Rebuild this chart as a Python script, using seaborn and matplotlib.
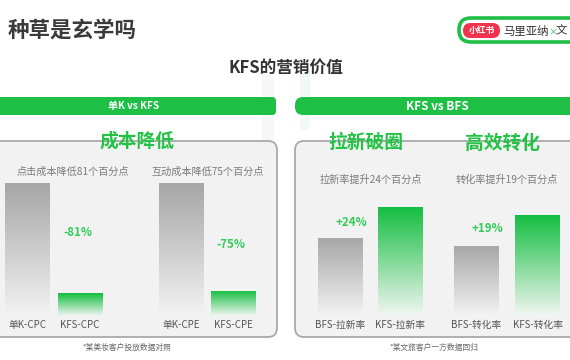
import numpy as np
import pandas as pd
import matplotlib
matplotlib.use("Agg")
import matplotlib.pyplot as plt
from matplotlib.patches import FancyBboxPatch
from matplotlib.colors import to_rgb
import seaborn as sns

# ---------------- data ----------------
title = "种草是玄学吗"
subtitle = "KFS的营销价值"
left_header = "单K vs KFS"
right_header = "KFS vs BFS"

cpc_cats = ["单K-CPC", "KFS-CPC"]
cpc_vals = [100, 17]
cpe_cats = ["单K-CPE", "KFS-CPE"]
cpe_vals = [100, 19]
new_cats = ["BFS-拉新率", "KFS-拉新率"]
new_vals = [59, 82]
conv_cats = ["BFS-转化率", "KFS-转化率"]
conv_vals = [53, 76]

panel_titles = ["成本降低", "拉新破圈", "高效转化"]
notes = ["点击成本降低81个百分点", "互动成本降低75个百分点",
         "拉新率提升24个百分点", "转化率提升19个百分点"]
change_labels = ["-81%", "-75%", "+24%", "+19%"]
footnotes = ["*某美妆客户投放数据对照", "*某文旅客户一方数据回归"]

# ---------------- style ----------------
sns.set_theme(style="white")
plt.rcParams["font.family"] = ["Noto Sans CJK SC", "DejaVu Sans"]

GREEN = "#1dbf45"
LGREEN = "#33cc5a"
PANEL = "#f2f2f2"
W, H = 570, 360

fig = plt.figure(figsize=(5.7, 3.6), dpi=100)
fig.patch.set_facecolor("white")
bg = fig.add_axes([0, 0, 1, 1])
bg.set_xlim(0, W)
bg.set_ylim(H, 0)
bg.axis("off")

# faint decorative watermark
bg.add_patch(FancyBboxPatch((262, 75), 12, 70, boxstyle="round,pad=0,rounding_size=6",
                            fc="#f6f7f6", ec="none", zorder=0))
bg.add_patch(FancyBboxPatch((300, 70), 10, 60, boxstyle="round,pad=0,rounding_size=5",
                            fc="#f2f8f3", ec="none", zorder=0))

# title
bg.text(8, 30, title, fontsize=15.5, fontweight="bold", color="#3a3a3a", va="center", ha="left")
bg.text(286, 68, subtitle, fontsize=12, fontweight="bold", color="#333333", va="center", ha="center")

# badge
bg.add_patch(FancyBboxPatch((459, 18), 140, 24, boxstyle="round,pad=0,rounding_size=12",
                            fc="white", ec=GREEN, lw=2.6, zorder=2))
bg.add_patch(FancyBboxPatch((463, 23), 37, 15, boxstyle="round,pad=0,rounding_size=7.5",
                            fc="#f2334e", ec="none", zorder=3))
bg.text(481.5, 30.5, "小红书", fontsize=6.3, color="white", fontweight="bold",
        ha="center", va="center", zorder=4)
bg.text(503, 31, "马里亚纳", fontsize=8.2, color="#333333", ha="left", va="center", zorder=4)
bg.text(548.5, 31.5, "×", fontsize=6.5, color=GREEN, ha="left", va="center", zorder=4)
bg.text(556, 31, "文", fontsize=8.2, color="#333333", ha="left", va="center", zorder=4)

# green header bars
bg.add_patch(FancyBboxPatch((-10, 97), 286, 18, boxstyle="round,pad=0,rounding_size=4",
                            fc=GREEN, ec="none", zorder=2))
bg.add_patch(FancyBboxPatch((295, 97), 290, 18, boxstyle="round,pad=0,rounding_size=8",
                            fc=GREEN, ec="none", zorder=2))
bg.text(134, 106.5, left_header, fontsize=7.2, color="white", fontweight="bold",
        ha="center", va="center", zorder=3)
bg.text(437, 106.5, right_header, fontsize=8.5, color="white", fontweight="bold",
        ha="center", va="center", zorder=3)

# panels
bg.add_patch(FancyBboxPatch((-12, 141), 289, 196, boxstyle="round,pad=0,rounding_size=9",
                            fc=PANEL, ec="#a9a9a9", lw=1.3, zorder=1))
bg.add_patch(FancyBboxPatch((295, 141), 290, 196, boxstyle="round,pad=0,rounding_size=9",
                            fc=PANEL, ec="#a9a9a9", lw=1.3, zorder=1))

# panel titles
for (x, y), t in zip([(137, 141), (366, 143), (503, 143)], panel_titles):
    bg.text(x, y, t, fontsize=13.5, fontweight="bold", color="#22c244",
            ha="center", va="center", zorder=3, style="italic")

# notes
for (x, y), t in zip([(73, 172), (208, 172), (371, 180), (507, 180)], notes):
    bg.text(x, y, t, fontsize=7.3, color="#7a7a7a", ha="center", va="center", zorder=3)

# change labels
for (x, y), t in zip([(78, 233), (231, 245), (351, 222), (487, 229)], change_labels):
    bg.text(x, y, t, fontsize=8.3, color=LGREEN, fontweight="bold",
            ha="center", va="center", zorder=3)

# footnotes
for (x, y), t in zip([(127, 348), (434, 348)], footnotes):
    bg.text(x, y, t, fontsize=5.6, color="#666666", ha="center", va="center", zorder=3)

# ---------------- bars ----------------
BASE = 316   # pixel baseline (from top)
TOP = 170    # pixel top of bar axes
PX_PER_UNIT = 133 / 100.0
BAR_W = 45

def gradient_fill(ax, patch, top_color, bottom_color):
    x0, w = patch.get_x(), patch.get_width()
    y0, h = patch.get_y(), patch.get_height()
    n = 256
    t = np.linspace(0, 1, n)[:, None]
    c1 = np.array(to_rgb(top_color))
    c2 = np.array(to_rgb(bottom_color))
    img = (c1 * (1 - t) + c2 * t)[:, None, :]
    im = ax.imshow(img, extent=[x0, x0 + w, y0, y0 + h], origin="upper",
                   aspect="auto", zorder=3, interpolation="bicubic")
    im.set_clip_path(patch)
    patch.set_facecolor("none")
    patch.set_edgecolor("none")

pairs = [
    (cpc_cats, cpc_vals, 27.5, 80.0),
    (cpe_cats, cpe_vals, 181.5, 233.0),
    (new_cats, new_vals, 340.0, 400.5),
    (conv_cats, conv_vals, 476.5, 537.5),
]
for cats, vals, c1, c2 in pairs:
    s = c2 - c1
    left = c1 - s / 2
    ax = fig.add_axes([left / W, (H - BASE) / H, 2 * s / W, (BASE - TOP) / H])
    df = pd.DataFrame({"cat": cats, "val": vals})
    sns.barplot(data=df, x="cat", y="val", ax=ax, color="#aaaaaa",
                width=BAR_W / s, saturation=1, errorbar=None)
    ax.set_xlim(-0.5, 1.5)
    ax.set_ylim(0, (BASE - TOP) / PX_PER_UNIT)
    ax.set_facecolor("none")
    for sp in ax.spines.values():
        sp.set_visible(False)
    ax.set_yticks([])
    ax.set_xlabel("")
    ax.set_ylabel("")
    ax.tick_params(axis="x", length=0, pad=3, labelsize=7, labelcolor="#555555")
    ax.grid(False)
    p_grey, p_green = ax.patches[0], ax.patches[1]
    gradient_fill(ax, p_grey, "#a6a6a6", "#f3f3f3")
    gradient_fill(ax, p_green, "#12bd3f", "#f2f6f2")

fig.savefig("out.png", dpi=100, facecolor="white")
